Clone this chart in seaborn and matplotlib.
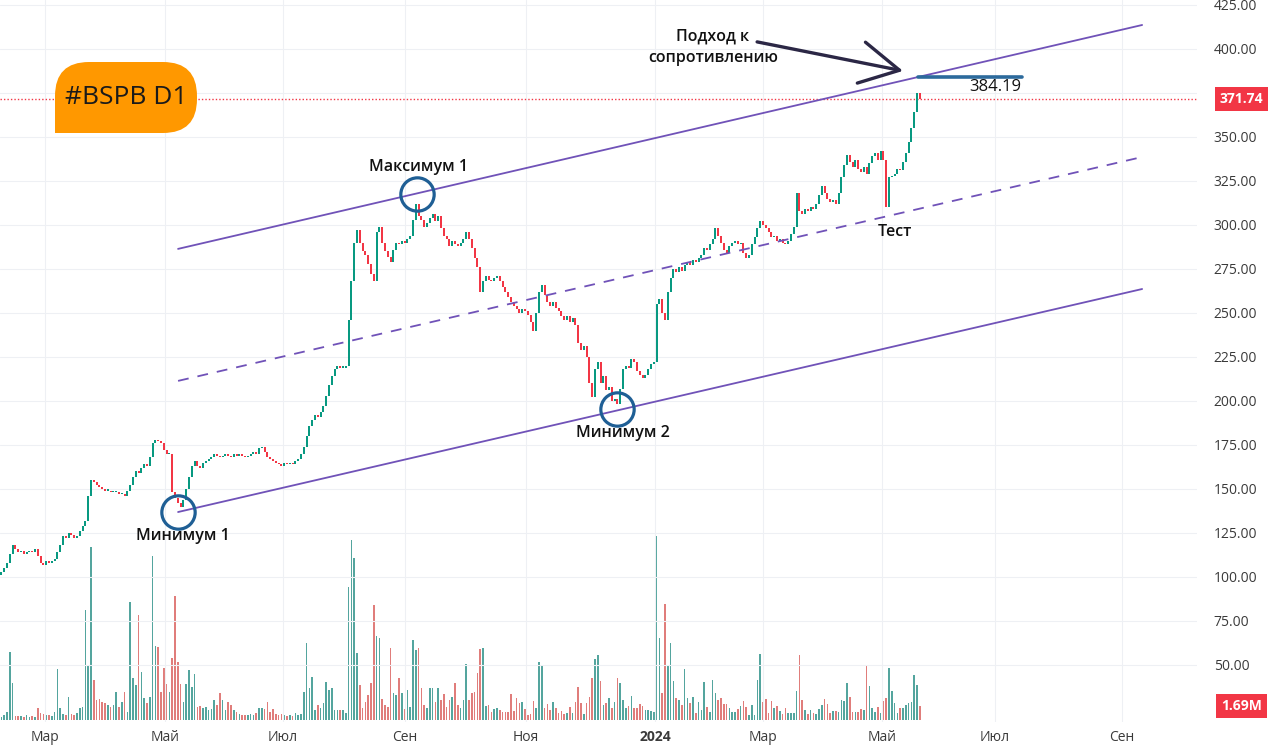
import pandas as pd
import seaborn as sns
import matplotlib.pyplot as plt
from matplotlib.patches import FancyBboxPatch, Rectangle
from matplotlib.transforms import IdentityTransform, blended_transform_factory

# daily closes, BSPB (bar index = trading day)
first_open = 101
closes = [
    103, 105, 108, 113, 118, 116, 114, 115, 113, 114,
    115, 114, 116, 112, 108, 107, 109, 108, 109, 110,
    114, 118, 123, 122, 125, 124, 122, 123, 126, 129,
    132, 146, 155, 154, 152, 151, 150, 149, 149, 148,
    148, 148, 147, 147, 146, 149, 152, 157, 160, 159,
    162, 164, 163, 168, 176, 178, 177, 176, 172, 170,
    170, 148, 145, 142, 140, 144, 150, 157, 163, 166,
    163, 162, 165, 166, 167, 168, 170, 169, 168, 169,
    170, 169, 168, 170, 169, 170, 169, 168, 169, 170,
    171, 170, 173, 174, 171, 168, 167, 166, 165, 164,
    163, 165, 164, 165, 164, 166, 167, 170, 174, 180,
    186, 189, 192, 191, 194, 197, 203, 209, 214, 218,
    220, 219, 219, 220, 246, 268, 290, 297, 290, 285,
    283, 278, 272, 268, 296, 299, 290, 285, 282, 279,
    286, 290, 289, 291, 290, 292, 294, 303, 312, 305,
    303, 299, 301, 304, 306, 302, 305, 298, 294, 292,
    288, 291, 289, 288, 290, 292, 296, 292, 287, 281,
    276, 262, 268, 271, 269, 268, 270, 271, 268, 265,
    262, 259, 256, 254, 252, 250, 252, 251, 249, 245,
    240, 250, 262, 266, 260, 256, 254, 256, 253, 251,
    248, 246, 248, 245, 247, 243, 233, 229, 231, 225,
    210, 202, 218, 222, 210, 214, 206, 208, 200, 201,
    198, 207, 218, 220, 219, 224, 222, 217, 215, 213,
    215, 218, 221, 222, 255, 258, 250, 246, 262, 270,
    275, 273, 276, 274, 277, 279, 277, 280, 279, 281,
    283, 287, 286, 289, 292, 298, 294, 290, 286, 284,
    288, 290, 291, 289, 290, 284, 281, 283, 289, 293,
    298, 302, 300, 298, 296, 293, 294, 291, 292, 290,
    289, 291, 295, 299, 318, 308, 306, 309, 308, 310,
    309, 312, 317, 322, 318, 315, 313, 314, 312, 318,
    327, 334, 340, 336, 333, 337, 332, 330, 333, 329,
    335, 339, 341, 337, 342, 337,
    310, 327, 328, 329, 332, 331, 336, 341, 347, 355, 364, 375, 371.74,
]

# volume, millions
volume_m = [
    0.36, 0.60, 0.96, 8.16, 4.44, 0.48, 0.48, 0.48, 0.36, 0.60,
    0.36, 0.48, 0.36, 1.44, 0.84, 0.72, 0.60, 0.60, 0.48, 0.96,
    6.12, 1.44, 0.72, 0.60, 2.76, 0.72, 0.60, 0.84, 1.44, 1.56,
    13.2, 6.6, 20.76, 4.8, 2.4, 2.52, 2.16, 2.04, 1.8, 1.56,
    1.8, 3.36, 1.56, 2.16, 3.36, 0.96, 14.16, 5.04, 4.2, 12.6,
    5.76, 2.64, 2.04, 2.76, 19.68, 8.88, 8.76, 3.36, 6.24, 4.32,
    3.36, 7.44, 14.88, 6.96, 4.32, 2.16, 4.32, 6.0, 3.96, 5.52,
    1.56, 1.68, 1.44, 1.56, 1.2, 1.32, 2.4, 1.8, 3.24, 2.4,
    1.2, 2.16, 1.8, 1.2, 0.96, 0.72, 0.6, 0.6, 0.6, 0.72,
    0.6, 0.84, 1.44, 1.44, 1.32, 2.16, 0.96, 1.32, 0.72, 0.6,
    0.72, 0.6, 0.48, 0.6, 0.48, 0.84, 0.6, 0.72, 3.36, 9.24,
    3.84, 5.16, 1.2, 1.8, 1.44, 2.04, 4.56, 3.6, 3.84, 1.2,
    1.2, 1.2, 1.2, 0.84, 15.96, 21.6, 19.44, 8.04, 4.2, 1.44,
    2.16, 3.0, 4.44, 13.8, 10.08, 9.84, 2.52, 1.8, 1.56, 8.64,
    3.24, 3.0, 5.04, 3.24, 1.32, 3.6, 1.56, 9.6, 8.4, 8.64,
    3.84, 1.8, 1.44, 3.84, 3.84, 2.16, 3.84, 2.4, 3.12, 1.56,
    2.4, 2.76, 4.44, 1.8, 1.44, 2.4, 6.72, 2.4, 3.24, 3.36,
    5.64, 8.52, 8.64, 1.68, 1.8, 0.96, 1.32, 1.44, 1.2, 0.96,
    0.96, 0.96, 3.12, 1.08, 2.64, 2.04, 2.16, 1.32, 0.6, 0.72,
    2.28, 1.44, 6.96, 6.48, 1.44, 1.92, 1.2, 2.16, 1.44, 0.84,
    1.08, 0.72, 0.84, 1.56, 0.84, 2.16, 3.96, 2.04, 0.72, 2.04,
    2.76, 5.04, 7.32, 7.8, 4.68, 1.8, 2.04, 2.64, 1.44, 2.16,
    5.04, 4.44, 2.4, 1.44, 1.68, 2.88, 1.44, 1.44, 1.92, 1.68,
    1.2, 1.2, 1.08, 0.96, 22.08, 9.84, 3.24, 13.92, 6.48, 9.24,
    4.68, 2.64, 2.4, 1.8, 6.12, 2.64, 2.04, 2.76, 0.84, 2.16,
    1.2, 4.56, 1.56, 0.96, 4.8, 3.24, 2.4, 2.64, 1.92, 1.92,
    1.44, 0.96, 0.96, 1.32, 1.68, 2.28, 1.56, 0.6, 1.8, 0.6,
    4.8, 7.92, 2.16, 2.52, 0.84, 2.28, 1.44, 1.68, 1.08, 0.72,
    1.44, 0.84, 0.84, 0.84, 3.48, 7.8, 2.4, 1.2, 0.72, 1.2,
    0.84, 0.72, 1.32, 1.8, 2.52, 1.92, 0.84, 1.08, 1.08, 0.96,
    2.4, 2.28, 4.44, 2.76, 0.96, 0.96, 0.96, 1.32, 1.2, 6.48,
    4.08, 1.44, 0.96, 1.56, 0.84, 2.28, 2.64, 6.24, 3.48, 2.04,
    0.84, 1.44, 1.44, 1.8, 2.04, 2.16, 5.4, 4.2, 1.69,
]

month_labels = ["Мар", "Май", "Июл", "Сен", "Ноя", "2024", "Мар", "Май", "Июл", "Сен"]
month_pos = [15.6, 58.4, 100.6, 144.1, 187.4, 233.4, 272.0, 314.5, 354.9, 400.2]
price_ticks = list(range(50, 426, 25))

# channel drawn on the chart (bar index, price)
channel_x = [63.1, 407.4]
channel_upper = [286.4, 413.6]
channel_mid = [211.4, 338.6]
channel_lower = [136.9, 263.6]

circle_x = [63.1, 148.4, 219.9]
circle_y = [137.0, 317.6, 195.5]

level_x = [327.4, 364.5]
level_price = 384.19

arrow_x = [269.9, 322.0]
arrow_y = [404.0, 387.5]

GREEN = "#089981"
RED = "#f23645"
PURPLE = "#7052b8"

df = pd.DataFrame({"bar": range(len(closes)), "close": closes, "volume": volume_m})
df["open"] = df["close"].shift(1).fillna(first_open)
df["dir"] = ["up" if c >= o else "down" for o, c in zip(df["open"], df["close"])]
df["body_lo"] = df[["open", "close"]].min(axis=1)
df["body_h"] = (df["close"] - df["open"]).abs().clip(lower=0.7)

sns.set_style("white")
plt.rcParams["font.family"] = ["Open Sans", "DejaVu Sans"]

fig = plt.figure(figsize=(12.8, 7.53), dpi=100)
rect = [0, 31 / 753, 1197 / 1280, 722 / 753]
ax_vol = fig.add_axes(rect)
ax = fig.add_axes(rect, sharex=ax_vol)
ax.patch.set_visible(False)

# volume
sns.barplot(data=df, x="bar", y="volume", hue="dir", native_scale=True,
            palette={"up": "#26a69a", "down": "#ef5350"}, dodge=False,
            errorbar=None, legend=False, width=0.55, alpha=0.85,
            linewidth=0, ax=ax_vol)
ax_vol.set_ylim(-0.24, 86.6)
ax_vol.axis("off")

# candles
colors = [GREEN if d == "up" else RED for d in df["dir"]]
ax.bar(df["bar"], df["body_h"], bottom=df["body_lo"], width=0.72,
       color=colors, linewidth=0, zorder=3)

ax.set_xlim(-0.5, 427)
ax.set_ylim(17.6, 427.8)

# channel
ax.plot(channel_x, channel_upper, color=PURPLE, lw=1.3, zorder=4)
ax.plot(channel_x, channel_lower, color=PURPLE, lw=1.3, zorder=4)
ax.plot(channel_x, channel_mid, color=PURPLE, lw=1.3, ls=(0, (6, 5)), zorder=4)
ax.plot(circle_x, circle_y, "o", ms=24, mfc="none", mec="#1f5f95", mew=2.3, zorder=5)

ann = dict(fontsize=11.5, fontweight="semibold", color="#111111", ha="center", va="center", zorder=6)
ax.text(64.9, 123.3, "Минимум 1", **ann)
ax.text(149.1, 333.0, "Максимум 1", **ann)
ax.text(222.0, 181.8, "Минимум 2", **ann)
ax.text(319.1, 296.0, "Тест", **ann)
ax.text(254.1, 401.1, "Подход к\nсопротивлению", linespacing=1.45, **ann)

ax.annotate("", xy=(arrow_x[1], arrow_y[1]), xytext=(arrow_x[0], arrow_y[0]),
            arrowprops=dict(arrowstyle="->,head_length=1.4,head_width=0.75",
                            color="#2b2745", lw=2.4, mutation_scale=20,
                            shrinkA=0, shrinkB=0), zorder=6)

ax.plot(level_x, [level_price, level_price], color="#2c6a9c", lw=2.6, zorder=5)
ax.text(354.9, 378.4, f"{level_price:.2f}", fontsize=12, color="#111111",
        ha="center", va="center", zorder=6)

last_close = closes[-1]
ax.axhline(last_close, color=RED, lw=1.0, ls=(0, (1, 1.5)), zorder=2)

# axes styling
ax.set_yticks(price_ticks)
# the 375 label sits under the last-price badge, as on the original
ax.set_yticklabels(["" if t == 375 else f"{t:.2f}" for t in price_ticks])
ax.yaxis.tick_right()
ax.set_xticks(month_pos)
ax.set_xticklabels(month_labels)
ax.get_xticklabels()[5].set_fontweight("bold")
ax.tick_params(axis="y", length=0, pad=12, labelsize=10, labelcolor="#3a3a3a")
ax.tick_params(axis="x", length=0, pad=6, labelsize=10, labelcolor="#3a3a3a")
ax.grid(True, color="#eef0f4", lw=0.8)
ax.set_axisbelow(True)
for s in ax.spines.values():
    s.set_visible(False)

tr = blended_transform_factory(ax.transAxes, ax.transData)
ax.text(1.037, last_close, f"{last_close:.2f}", transform=tr, ha="center", va="center",
        fontsize=10, fontweight="bold", color="white",
        bbox=dict(boxstyle="square,pad=0.35", fc=RED, ec="none"))
tr_v = blended_transform_factory(ax_vol.transAxes, ax_vol.transData)
ax_vol.text(1.037, volume_m[-1], f"{volume_m[-1]:.2f}M", transform=tr_v, ha="center",
            va="center", fontsize=10, fontweight="bold", color="white",
            bbox=dict(boxstyle="square,pad=0.35", fc=RED, ec="none"))

# ticker badge
badge = FancyBboxPatch((55, 753 - 133), 142, 71, boxstyle="round,pad=0,rounding_size=34",
                       fc="#ff9800", ec="none", transform=IdentityTransform())
fig.add_artist(badge)
fig.add_artist(Rectangle((55, 753 - 133), 40, 36, fc="#ff9800", ec="none",
                         transform=IdentityTransform()))
fig.text(126, 753 - 97, "#BSPB D1", transform=IdentityTransform(), fontsize=19,
         fontweight="medium", color="#1a1a1a", ha="center", va="center")

fig.savefig("out.png", dpi=100)
